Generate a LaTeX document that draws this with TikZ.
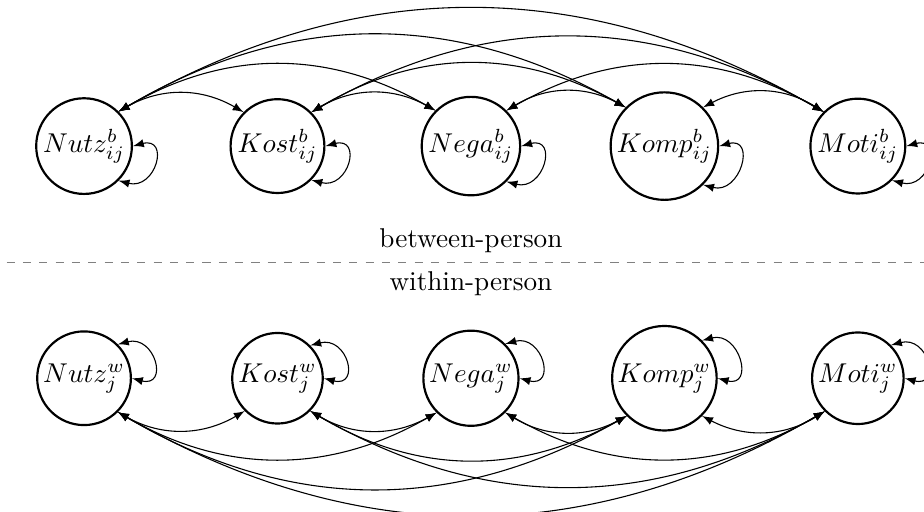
\documentclass[tikz,border=0pt]{standalone}
\usetikzlibrary{arrows}
\begin{document}
\begin{tikzpicture}[
  var/.style={circle, draw, thick, inner sep=1pt},
  link/.style={<->, >=latex},
  sep/.style={gray, dashed},
]
\useasboundingbox (-1.086,-4.728) rectangle (10.855,1.888);
% between-person nodes
\node[var] (bNutz) at (0,0)   {$Nutz^b_{ij}$};
\node[var] (bKost) at (2.5,0) {$Kost^b_{ij}$};
\node[var] (bNega) at (5,0)   {$Nega^b_{ij}$};
\node[var] (bKomp) at (7.5,0) {$Komp^b_{ij}$};
\node[var] (bMoti) at (10,0)  {$Moti^b_{ij}$};
% within-person nodes
\node[var] (wNutz) at (0,-3)   {$Nutz^w_{j}$};
\node[var] (wKost) at (2.5,-3) {$Kost^w_{j}$};
\node[var] (wNega) at (5,-3)   {$Nega^w_{j}$};
\node[var] (wKomp) at (7.5,-3) {$Komp^w_{j}$};
\node[var] (wMoti) at (10,-3)  {$Moti^w_{j}$};
% separator
\coordinate (sepL) at (-1,-1.5);
\coordinate (sepR) at (11,-1.5);
\draw[sep] (sepL) -- (sepR);
\node[above] (lbetween) at (5,-1.5) {between-person};
\node[below] (lwithin) at (5,-1.5) {within-person};
% connections
\foreach \a/\b in {Nutz/Kost,Nutz/Nega,Nutz/Komp,Nutz/Moti,Kost/Nega,Kost/Komp,Kost/Moti,Nega/Komp,Nega/Moti,Komp/Moti}{
  \draw[link] (b\a.north east) to[bend left=30] (b\b.north west);
  \draw[link] (w\a.south east) to[bend right=30] (w\b.south west);
}
% self loops
\foreach \a in {Nutz,Kost,Nega,Komp,Moti}{
  \draw[link] (b\a.east) .. controls +(15:5mm) and +(-15:5mm) .. (b\a.south east);
  \draw[link] (w\a.north east) .. controls +(15:5mm) and +(-15:5mm) .. (w\a.east);
}
\end{tikzpicture}
\end{document}
